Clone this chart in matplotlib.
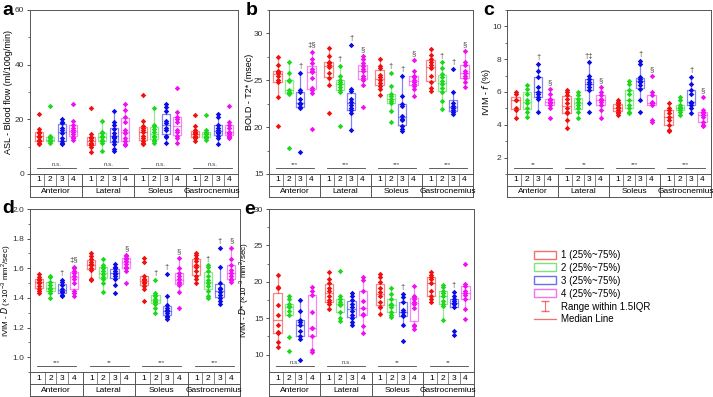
import numpy as np
import matplotlib
matplotlib.use("Agg")
import matplotlib.pyplot as plt
from matplotlib.patches import Patch
from matplotlib.lines import Line2D
from matplotlib.ticker import MultipleLocator
import matplotlib.transforms as mtransforms

plt.rcParams['font.family'] = ['Liberation Sans', 'DejaVu Sans']
plt.rcParams['mathtext.default'] = 'regular'

MUSCLES = ["Anterior", "Lateral", "Soleus", "Gastrocnemius"]
GROUPS = ["1", "2", "3", "4"]
COLORS = ["#f01010", "#1ed81e", "#0c0ce8", "#f010f0"]

# values per box, order: Anterior 1-4, Lateral 1-4, Soleus 1-4, Gastrocnemius 1-4
asl = [
    [22, 16.5, 15.5, 15, 14, 13.5, 12.5, 12, 11.5, 11],
    [25, 14, 13.5, 13, 12.5, 12.5, 12, 12, 11.5],
    [20, 19, 18.5, 17, 16, 15, 13, 12, 11.5, 11],
    [25.5, 19.5, 18, 17, 16, 15.5, 14.5, 13.5, 13, 12.5],
    [24, 14.5, 13.5, 13, 12.5, 11.5, 11, 10.5, 10, 8],
    [19.5, 15.5, 15, 14, 13.5, 12.5, 12, 11.5, 8.5],
    [23, 19, 18, 16.5, 15, 14, 13.5, 13, 12, 11, 9, 8.5],
    [25.5, 23.5, 21, 19, 16, 15, 13, 12, 11, 10.5],
    [29, 19.5, 17.5, 17, 16, 15.5, 14, 13, 12, 11.5, 11],
    [24, 18, 17.5, 16.5, 15.5, 14, 13.5, 12.5, 12, 11.5],
    [25.5, 24.5, 23, 19.5, 18.5, 17, 16, 14, 13.5, 11.5],
    [31.5, 22.5, 21, 20, 19, 16, 15.5, 14, 13, 11.5],
    [21.5, 17.5, 16, 15.5, 15, 14.5, 14, 13.5, 13, 12],
    [21.5, 16, 15.5, 15, 14.5, 14, 13.5, 13, 12.5],
    [22, 21, 18, 17, 16, 15.5, 15, 14, 13, 11],
    [25, 19, 18, 17, 15.5, 15, 14.5, 14, 13.5, 13],
]

bold = [
    [27.5, 26.6, 26.0, 25.9, 25.8, 25.5, 25.0, 24.8, 23.2, 20.1],
    [26.9, 25.8, 25.0, 24.9, 24.0, 23.8, 23.6, 23.5, 17.8],
    [25.8, 24.0, 23.8, 23.0, 22.6, 22.5, 22.2, 22.0, 17.4],
    [28.0, 27.3, 26.8, 26.2, 26.0, 25.9, 25.2, 24.2, 24.0, 23.6, 19.8],
    [28.4, 27.6, 27.0, 26.8, 26.6, 26.4, 25.8, 25.2, 24.5, 21.5],
    [26.5, 25.5, 25.0, 24.8, 24.6, 24.3, 24.0, 23.8, 20.1],
    [28.8, 24.1, 23.9, 23.0, 22.7, 22.4, 22.0, 21.8, 21.5, 19.7],
    [27.6, 27.3, 26.8, 26.5, 26.2, 26.0, 25.5, 25.2, 25.0, 24.5, 22.1],
    [27.3, 26.5, 26.3, 25.6, 25.3, 25.0, 24.7, 24.4, 24.1, 23.4],
    [25.8, 24.4, 23.5, 23.3, 23.0, 22.8, 22.6, 21.7, 20.5],
    [25.5, 23.3, 22.5, 22.3, 21.2, 20.9, 20.8, 20.1, 19.8, 19.6],
    [27.2, 26.0, 25.5, 25.3, 25.0, 24.8, 24.6, 24.4, 24.1, 23.3],
    [28.3, 27.7, 27.3, 26.9, 26.6, 26.3, 25.5, 24.8, 24.2, 23.9],
    [26.9, 26.3, 25.7, 25.3, 24.9, 24.6, 24.2, 23.8, 22.8, 21.9],
    [26.2, 23.7, 22.6, 22.3, 22.0, 21.8, 21.6, 21.4],
    [28.1, 27.0, 26.6, 26.0, 25.8, 25.5, 25.2, 24.8, 24.3],
]

ivim_f = [
    [6.0, 5.9, 5.5, 5.5, 5.0, 4.9, 4.4],
    [6.4, 6.2, 5.9, 5.5, 5.3, 5.0, 4.8, 4.5],
    [7.7, 7.3, 6.9, 6.3, 6.0, 5.9, 5.7, 5.6, 4.8],
    [6.2, 5.9, 5.6, 5.5, 5.4, 5.3, 5.2, 5.0, 4.4],
    [6.1, 6.0, 5.8, 5.6, 5.3, 5.0, 4.8, 4.7, 4.3, 3.8],
    [6.0, 5.8, 5.6, 5.4, 5.2, 5.0, 4.8, 4.4],
    [7.8, 7.0, 6.8, 6.6, 6.5, 6.3, 6.1, 5.3, 4.8],
    [6.3, 6.0, 5.8, 5.6, 5.5, 5.4, 5.2, 4.9, 4.4],
    [5.5, 5.4, 5.3, 5.2, 5.1, 5.0, 4.9, 4.8, 4.7, 4.6],
    [6.7, 6.5, 6.1, 5.9, 5.5, 5.2, 5.0, 4.8, 4.7],
    [7.9, 7.7, 6.9, 6.8, 6.7, 6.6, 6.4, 6.2, 5.5, 4.8],
    [7.0, 6.0, 5.8, 5.4, 5.3, 5.3, 5.2, 4.3, 4.2],
    [5.3, 5.0, 4.9, 4.7, 4.5, 4.3, 4.0, 3.7, 3.6],
    [5.7, 5.5, 5.2, 5.1, 5.0, 5.0, 4.9, 4.8, 4.6],
    [6.9, 6.5, 6.1, 5.9, 5.4, 5.3, 5.2, 5.0, 4.7],
    [5.7, 4.9, 4.8, 4.7, 4.6, 4.5, 4.2, 4.0, 3.9],
]

ivim_d = [
    [1.56, 1.54, 1.53, 1.52, 1.51, 1.50, 1.48, 1.46, 1.45, 1.43],
    [1.55, 1.54, 1.51, 1.49, 1.47, 1.46, 1.45, 1.43, 1.40],
    [1.52, 1.51, 1.49, 1.46, 1.45, 1.44, 1.42, 1.41],
    [1.61, 1.60, 1.58, 1.57, 1.55, 1.53, 1.50, 1.45, 1.43, 1.41],
    [1.70, 1.68, 1.66, 1.64, 1.63, 1.62, 1.60, 1.59, 1.53, 1.52],
    [1.66, 1.62, 1.61, 1.60, 1.58, 1.56, 1.54, 1.53, 1.50, 1.44],
    [1.63, 1.61, 1.60, 1.58, 1.57, 1.56, 1.55, 1.53, 1.49, 1.43],
    [1.69, 1.68, 1.67, 1.66, 1.65, 1.63, 1.61, 1.60, 1.58, 1.50],
    [1.67, 1.64, 1.55, 1.53, 1.52, 1.51, 1.50, 1.48, 1.46, 1.38],
    [1.52, 1.43, 1.42, 1.41, 1.39, 1.38, 1.37, 1.36, 1.33, 1.30],
    [1.56, 1.41, 1.35, 1.33, 1.32, 1.31, 1.30, 1.28, 1.27, 1.26],
    [1.67, 1.60, 1.57, 1.55, 1.53, 1.51, 1.50, 1.49, 1.44, 1.33],
    [1.70, 1.69, 1.67, 1.65, 1.62, 1.61, 1.58, 1.55, 1.53, 1.50],
    [1.62, 1.61, 1.58, 1.55, 1.52, 1.50, 1.48, 1.45, 1.41, 1.40],
    [1.74, 1.61, 1.50, 1.47, 1.46, 1.44, 1.42, 1.40, 1.38, 1.36],
    [1.74, 1.66, 1.62, 1.59, 1.57, 1.55, 1.53, 1.52, 1.51],
]

ivim_dstar = [
    [20.9, 19.3, 19.1, 16.8, 15.5, 14.0, 13.1, 12.9, 11.7, 11.0],
    [18.1, 17.6, 17.0, 16.7, 16.5, 16.0, 15.4, 12.4, 10.5],
    [17.5, 16.0, 14.7, 14.5, 14.0, 13.2, 12.6, 12.2, 9.3],
    [19.3, 18.8, 18.2, 15.9, 13.7, 13.6, 12.6, 10.6, 10.4],
    [21.4, 20.4, 19.8, 19.2, 18.8, 18.0, 17.5, 17.2, 16.9, 16.2],
    [21.5, 18.1, 17.6, 17.2, 17.0, 16.8, 15.9, 15.0, 14.6],
    [18.4, 18.1, 17.5, 16.9, 16.6, 16.0, 15.5, 15.0, 14.5, 14.0],
    [20.6, 20.3, 18.7, 17.4, 16.4, 15.6, 15.5, 13.9, 12.9],
    [21.0, 20.6, 19.9, 19.2, 18.6, 18.0, 17.2, 16.6, 16.5, 15.6],
    [19.1, 18.3, 17.6, 17.0, 16.8, 16.5, 15.9, 15.5, 15.1],
    [18.3, 17.9, 17.2, 16.1, 15.9, 15.5, 15.3, 14.0, 11.8],
    [19.4, 18.1, 17.9, 17.6, 17.2, 17.0, 16.4, 14.0, 13.9, 13.5],
    [21.3, 20.9, 20.6, 20.4, 19.8, 18.7, 18.0, 17.7, 17.2],
    [19.6, 19.3, 18.8, 18.4, 18.0, 17.4, 16.9, 16.7, 14.8],
    [18.6, 18.0, 17.6, 17.3, 17.1, 16.9, 16.6, 13.3, 12.7],
    [22.5, 19.7, 19.4, 18.7, 18.5, 18.2, 17.6, 16.2, 14.9],
]

# group-level significance under each muscle
sig_a = ["n.s.", "n.s.", "n.s.", "n.s."]
sig_b = ["***", "***", "***", "***"]
sig_c = ["**", "**", "***", "***"]
sig_d = ["***", "**", "***", "***"]
sig_e = ["n.s.", "n.s.", "**", "**"]

# symbols above single boxes: (box index, symbol)
marks_a = []
marks_b = [(2, "†"), (3, "‡§"), (5, "†"), (6, "†"), (7, "§"), (9, "†"), (10, "†"), (11, "§"),
           (13, "†"), (14, "†"), (15, "§")]
marks_c = [(2, "†"), (3, "§"), (6, "†‡"), (7, "§"), (10, "†"), (11, "§"), (14, "†"), (15, "§")]
marks_d = [(2, "†"), (3, "‡§"), (7, "§"), (9, "†"), (10, "†"), (11, "§"), (13, "†"), (14, "†"), (15, "§")]
marks_e = [(10, "†"), (14, "†")]

W, H = 713, 397
fig = plt.figure(figsize=(W / 100, H / 100), dpi=100)

GW = 4.5
pos = [g * GW + 0.75 + i for g in range(4) for i in range(4)]
box_cols = [COLORS[i] for g in range(4) for i in range(4)]
SPINE = "#555555"


def frac(l, t, r, b):
    return [l / W, 1 - b / H, (r - l) / W, (b - t) / H]


def panel(box, vals, ylim, major, minor, ylabel, lsize, lab_off, sig, marks, letter, lx, ly):
    l, t, r, b, cb = box
    ax = fig.add_axes(frac(l, t, r, b))
    cax = fig.add_axes(frac(l, b, r, cb))

    bp = ax.boxplot(vals, positions=pos, widths=0.72, showfliers=False, showcaps=False,
                    manage_ticks=False)
    for k, c in enumerate(box_cols):
        for art in [bp['boxes'][k], bp['medians'][k], bp['whiskers'][2 * k], bp['whiskers'][2 * k + 1]]:
            art.set_color(c)
            art.set_alpha(0.5)
            art.set_linewidth(0.9)
        ax.plot([pos[k]] * len(vals[k]), vals[k], 'D', color=c, ms=2.8, mew=0, zorder=3)

    for k, s in marks:
        ax.annotate(s, (pos[k], max(vals[k])), xytext=(0, 2), textcoords='offset points',
                    ha='center', va='bottom', fontsize=5.5, color='#444444')

    trans = mtransforms.blended_transform_factory(ax.transData, ax.transAxes)
    for g, s in enumerate(sig):
        x0, x1 = g * GW + 0.6, g * GW + 3.95
        ax.plot([x0, x1], [0.035, 0.035], color='#444444', lw=0.6, transform=trans)
        ax.text((x0 + x1) / 2, 0.04, s, transform=trans, ha='center', va='bottom',
                fontsize=4.5, color='#444444')

    ax.set_xlim(0, 4 * GW)
    ax.set_ylim(*ylim)
    ax.set_xticks([])
    ax.yaxis.set_major_locator(MultipleLocator(major))
    ax.yaxis.set_minor_locator(MultipleLocator(minor))
    ax.tick_params(axis='y', which='major', labelsize=6, length=2.5, width=0.6, colors='#333333', pad=1.5)
    ax.tick_params(axis='y', which='minor', length=1.5, width=0.5, colors='#333333')
    ax.set_ylabel(ylabel, fontsize=lsize)
    ax.yaxis.set_label_coords(lab_off / (r - l), 0.5)
    for sp in ax.spines.values():
        sp.set_color(SPINE)
        sp.set_linewidth(0.7)

    # two-row category axis
    cax.set_xlim(0, 4 * GW)
    cax.set_ylim(0, 2)
    cax.set_xticks([])
    cax.set_yticks([])
    for sp in cax.spines.values():
        sp.set_color(SPINE)
        sp.set_linewidth(0.7)
    cax.axhline(1, color=SPINE, lw=0.7)
    for g in range(1, 4):
        cax.plot([g * GW, g * GW], [0, 2], color=SPINE, lw=0.7)
    for g in range(4):
        for i in range(3):
            xs = g * GW + 0.75 + i + 0.5
            cax.plot([xs, xs], [1, 2], color=SPINE, lw=0.5)
        for i, lab in enumerate(GROUPS):
            cax.text(g * GW + 0.75 + i, 1.5, lab, ha='center', va='center', fontsize=6)
        cax.text(g * GW + GW / 2, 0.5, MUSCLES[g], ha='center', va='center', fontsize=6)

    fig.text(lx / W, 1 - ly / H, letter, fontsize=14, fontweight='bold', va='baseline', ha='left')
    return ax


panel((30, 10, 238, 174, 197), asl, (0, 60), 20, 10,
      "ASL - Blood flow (ml/100g/min)", 6.5, -16.5, sig_a, marks_a, "a", 2, 15)
panel((269, 10, 473, 174, 197), bold, (15, 32.5), 5, 2.5,
      "BOLD - T2* (msec)", 6.5, -15.5, sig_b, marks_b, "b", 246, 15)
panel((507, 10, 711, 174, 197), ivim_f, (1, 11), 2, 1,
      "IVIM - $\\mathit{f}$ (%)", 6.5, -13.5, sig_c, marks_c, "c", 483, 15)
panel((30, 209, 240, 372, 396), ivim_d, (0.9, 2.0), 0.2, 0.1,
      "IVIM - $\\mathit{D}$ ($\\times$10$^{-3}$ mm$^{2}$/sec)", 5.8, -18, sig_d, marks_d, "d", 2, 213)
panel((269, 209, 474, 372, 396), ivim_dstar, (7.6, 30), 5, 2.5,
      "IVIM - $\\mathit{D}$* ($\\times$10$^{-3}$ mm$^{2}$/sec)", 5.8, -19.5, sig_e, marks_e, "e", 244, 214)

# legend
handles = [Patch(facecolor='white', edgecolor=c, alpha=0.6, lw=1.0) for c in COLORS]
labels = [f"{g} (25%~75%)" for g in GROUPS]
hid = fig.add_axes([0, 0, 0.01, 0.01])
hid.set_axis_off()
eb = hid.errorbar([np.nan], [np.nan], yerr=[[np.nan]], fmt='none', ecolor=COLORS[0],
                  capsize=3, elinewidth=0.8, alpha=0.6)
handles += [eb, Line2D([], [], color=COLORS[0], lw=0.9, alpha=0.6)]
labels += ["Range within 1.5IQR", "Median Line"]
fig.legend(handles, labels, loc='upper left', bbox_to_anchor=(530 / W, 1 - 246 / H),
           frameon=False, fontsize=7, handlelength=2.3, handleheight=0.9,
           labelspacing=0.3, handletextpad=0.5, borderaxespad=0)

fig.savefig("out.png", dpi=100)
